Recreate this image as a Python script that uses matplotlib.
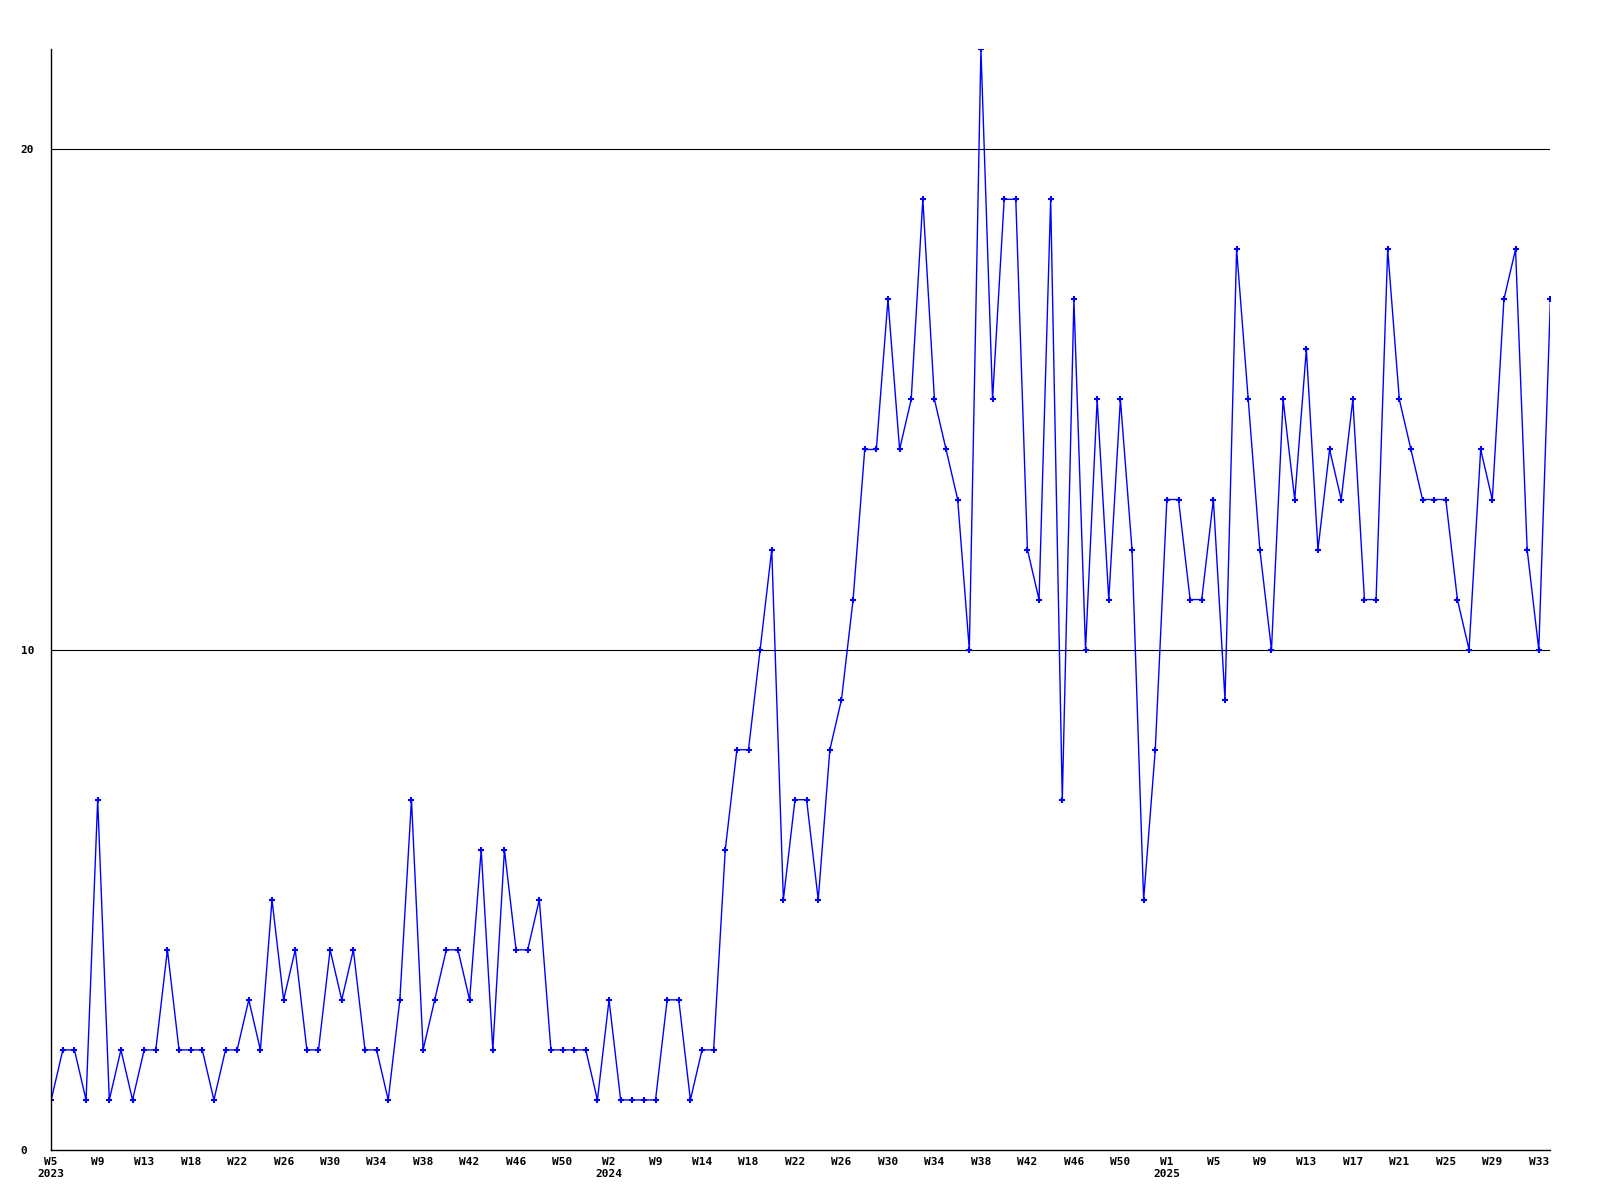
import matplotlib
matplotlib.use("Agg")
import matplotlib.pyplot as plt

# weekly counts, 2023 W5 .. 2025 W34
values = [
    1, 2, 2, 1, 7, 1, 2, 1, 2, 2,
    4, 2, 2, 2, 1, 2, 2, 3, 2, 5,
    3, 4, 2, 2, 4, 3, 4, 2, 2, 1,
    3, 7, 2, 3, 4, 4, 3, 6, 2, 6,
    4, 4, 5, 2, 2, 2, 2, 1, 3, 1,
    1, 1, 1, 3, 3, 1, 2, 2, 6, 8,
    8, 10, 12, 5, 7, 7, 5, 8, 9, 11,
    14, 14, 17, 14, 15, 19, 15, 14, 13, 10,
    22, 15, 19, 19, 12, 11, 19, 7, 17, 10,
    15, 11, 15, 12, 5, 8, 13, 13, 11, 11,
    13, 9, 18, 15, 12, 10, 15, 13, 16, 12,
    14, 13, 15, 11, 11, 18, 15, 14, 13, 13,
    13, 11, 10, 14, 13, 17, 18, 12, 10, 17,
]

tick_labels = [
    "W5\n2023", "W9", "W13", "W18", "W22", "W26", "W30", "W34", "W38",
    "W42", "W46", "W50", "W2\n2024", "W9", "W14", "W18", "W22", "W26",
    "W30", "W34", "W38", "W42", "W46", "W50", "W1\n2025", "W5", "W9",
    "W13", "W17", "W21", "W25", "W29", "W33",
]
tick_step = 4

fig = plt.figure(figsize=(16, 12), dpi=100)
ax = fig.add_axes([0.032, 0.0417, 0.937, 0.9173])

x = list(range(len(values)))
ax.plot(x, values, color="#0000ff", linewidth=1.0, marker="+",
        markersize=4, markeredgewidth=1.5)

ax.set_xlim(0, len(values) - 1)
ax.set_ylim(0, 22)

for yv in (10, 20):
    ax.axhline(yv, color="black", linewidth=0.8, zorder=0)

ax.set_yticks([0, 10, 20])
ax.set_yticklabels(["0", "10", "20"], fontfamily="DejaVu Sans Mono",
                   fontweight="bold", fontsize=8, ha="left")
ax.set_xticks(list(range(0, len(values), tick_step))[:len(tick_labels)])
ax.set_xticklabels(tick_labels, fontfamily="DejaVu Sans Mono",
                   fontweight="bold", fontsize=8, linespacing=1.25)
ax.tick_params(axis="both", length=0)
ax.tick_params(axis="y", pad=22)
ax.tick_params(axis="x", pad=5)

for side in ("top", "right"):
    ax.spines[side].set_visible(False)
for side in ("left", "bottom"):
    ax.spines[side].set_linewidth(1.0)

fig.savefig("out.png", dpi=100)
